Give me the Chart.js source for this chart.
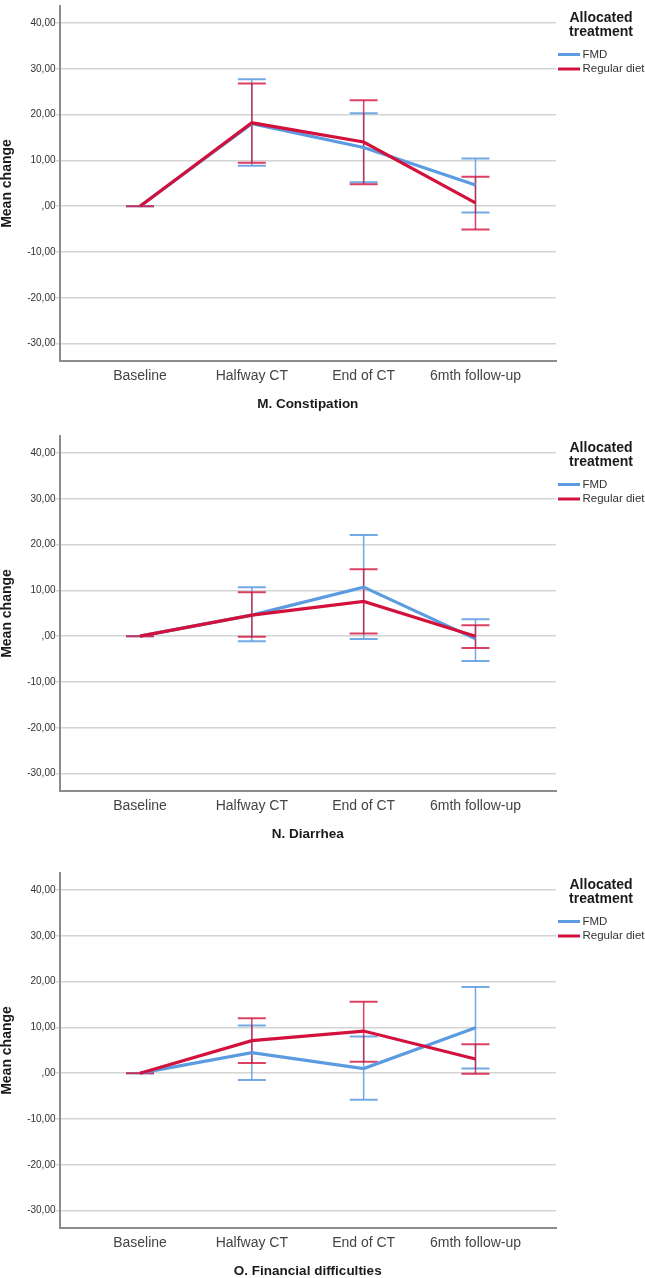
<!DOCTYPE html>
<html>
<head>
<meta charset="utf-8">
<script src="https://cdn.jsdelivr.net/npm/chart.js@4.4.0/dist/chart.umd.min.js"></script>
<style>
body{margin:0;background:#fff;overflow:hidden;width:645px;height:1278px;position:relative}
canvas{position:absolute;left:0}
</style>
</head>
<body>
<canvas id="c1" width="645" height="420" style="top:0px"></canvas>
<canvas id="c2" width="645" height="420" style="top:430px"></canvas>
<canvas id="c3" width="645" height="420" style="top:867px"></canvas>
<script>
const timepoints = ['Baseline', 'Halfway CT', 'End of CT', '6mth follow-up']
const y_ticks = [-30, -20, -10, 0, 10, 20, 30, 40]
const y_tick_labels = ['-30,00', '-20,00', '-10,00', ',00', '10,00', '20,00', '30,00', '40,00']
const legend_title = ['Allocated', 'treatment']
const group_names = ['FMD', 'Regular diet']

// M. Constipation
const constipation_fmd = [0, 18.0, 12.8, 4.6]
const constipation_fmd_low = [0, 8.8, 5.2, -1.4]
const constipation_fmd_high = [0, 27.7, 20.3, 10.4]
const constipation_reg = [0, 18.2, 14.0, 0.7]
const constipation_reg_low = [0, 9.5, 4.8, -5.1]
const constipation_reg_high = [0, 26.8, 23.1, 6.4]

// N. Diarrhea
const diarrhea_fmd = [0, 4.6, 10.7, -0.6]
const diarrhea_fmd_low = [0, -1.1, -0.6, -5.4]
const diarrhea_fmd_high = [0, 10.7, 22.1, 3.7]
const diarrhea_reg = [0, 4.6, 7.6, 0.0]
const diarrhea_reg_low = [0, -0.1, 0.6, -2.6]
const diarrhea_reg_high = [0, 9.6, 14.6, 2.4]

// O. Financial difficulties
const financial_fmd = [0, 4.5, 1.0, 9.9]
const financial_fmd_low = [0, -1.5, -5.8, 1.0]
const financial_fmd_high = [0, 10.4, 8.0, 18.8]
const financial_reg = [0, 7.1, 9.2, 3.1]
const financial_reg_low = [0, 2.2, 2.5, -0.1]
const financial_reg_high = [0, 12.0, 15.6, 6.3]

const FONT = '"Liberation Sans", Arial, sans-serif'
const BLUE = '#5b9be0'
const RED = '#d2123c'

const errorBars = {
    id: 'errorBars',
    beforeDatasetsDraw(chart){
        const ctx = chart.ctx
        const xs = chart.scales.x, ys = chart.scales.y
        chart.data.datasets.forEach(ds => {
            ds.low.forEach((lo, i) => {
                const x = xs.getPixelForValue(i)
                const y1 = ys.getPixelForValue(lo)
                const y2 = ys.getPixelForValue(ds.high[i])
                ctx.save()
                ctx.strokeStyle = ds.errColor
                ctx.lineWidth = 1.5
                ctx.beginPath()
                ctx.moveTo(x, y1); ctx.lineTo(x, y2)
                ctx.stroke()
                ctx.lineWidth = 2
                ctx.beginPath()
                ctx.moveTo(x - 14, y1); ctx.lineTo(x + 14, y1)
                ctx.moveTo(x - 14, y2); ctx.lineTo(x + 14, y2)
                ctx.stroke()
                ctx.restore()
            })
        })
    }
}

const legendBox = {
    id: 'legendBox',
    afterDraw(chart){
        const ctx = chart.ctx
        const top = chart.chartArea.top
        ctx.save()
        ctx.fillStyle = '#1a1a1a'
        ctx.font = 'bold 14px ' + FONT
        ctx.textAlign = 'center'
        ctx.textBaseline = 'middle'
        legend_title.forEach((t, i) => ctx.fillText(t, 601, top + 12 + i * 14))
        ctx.font = '11.5px ' + FONT
        ctx.textAlign = 'left'
        chart.data.datasets.forEach((ds, i) => {
            const y = top + 48.5 + i * 14.5
            ctx.strokeStyle = ds.borderColor
            ctx.lineWidth = 3
            ctx.beginPath()
            ctx.moveTo(558, y); ctx.lineTo(580, y)
            ctx.stroke()
            ctx.fillStyle = '#333'
            ctx.fillText(ds.label, 582.5, y)
        })
        ctx.restore()
    }
}

function points(values){
    return values.map((v, i) => ({x: i, y: v}))
}

function make_chart(id, title, fmd, fmd_low, fmd_high, reg, reg_low, reg_high){
    const ctx = document.getElementById(id).getContext('2d')
    new Chart(ctx, {
        type: 'line',
        data: {
            datasets: [{
                label: group_names[0],
                data: points(fmd),
                low: fmd_low,
                high: fmd_high,
                borderColor: BLUE,
                errColor: 'rgba(91,155,224,0.85)',
                borderWidth: 3.2,
                pointRadius: 0,
                tension: 0,
                order: 1
            }, {
                label: group_names[1],
                data: points(reg),
                low: reg_low,
                high: reg_high,
                borderColor: RED,
                errColor: 'rgba(210,18,60,0.8)',
                borderWidth: 3.2,
                pointRadius: 0,
                tension: 0,
                order: 0
            }]
        },
        options: {
            responsive: false,
            animation: false,
            layout: {padding: {top: 2, right: 89, left: 0, bottom: 0}},
            plugins: {legend: {display: false}, tooltip: {enabled: false}},
            scales: {
                x: {
                    type: 'linear',
                    min: -0.72,
                    max: 3.72,
                    afterBuildTicks: s => { s.ticks = timepoints.map((t, i) => ({value: i})) },
                    afterFit: s => { s.height = 59 },
                    grid: {display: false, drawTicks: false},
                    border: {display: true, color: '#8c8c8c', width: 2},
                    ticks: {
                        callback: v => timepoints[v],
                        font: {size: 14, family: FONT},
                        color: '#444',
                        padding: 7,
                        maxRotation: 0,
                        autoSkip: false
                    },
                    title: {
                        display: true,
                        text: title,
                        font: {size: 13.5, weight: 'bold', family: FONT},
                        color: '#1a1a1a',
                        padding: {top: 0, bottom: 8}
                    }
                },
                y: {
                    min: -33.8,
                    max: 43.7,
                    afterBuildTicks: s => { s.ticks = y_ticks.map(v => ({value: v})) },
                    afterFit: s => { s.width = 59.5 },
                    grid: {color: '#d4d4d4', lineWidth: 1.5, tickLength: 4, drawTicks: true},
                    border: {color: '#8c8c8c', width: 2},
                    ticks: {
                        callback: (v, i) => y_tick_labels[i],
                        font: {size: 10, family: FONT},
                        color: '#333',
                        padding: 0
                    },
                    title: {
                        display: true,
                        text: 'Mean change',
                        font: {size: 14, weight: 'bold', family: FONT, lineHeight: 1},
                        color: '#1a1a1a',
                        padding: 0
                    }
                }
            }
        },
        plugins: [errorBars, legendBox]
    })
}

make_chart('c1', 'M. Constipation', constipation_fmd, constipation_fmd_low, constipation_fmd_high, constipation_reg, constipation_reg_low, constipation_reg_high)
make_chart('c2', 'N. Diarrhea', diarrhea_fmd, diarrhea_fmd_low, diarrhea_fmd_high, diarrhea_reg, diarrhea_reg_low, diarrhea_reg_high)
make_chart('c3', 'O. Financial difficulties', financial_fmd, financial_fmd_low, financial_fmd_high, financial_reg, financial_reg_low, financial_reg_high)
</script>
</body>
</html>
